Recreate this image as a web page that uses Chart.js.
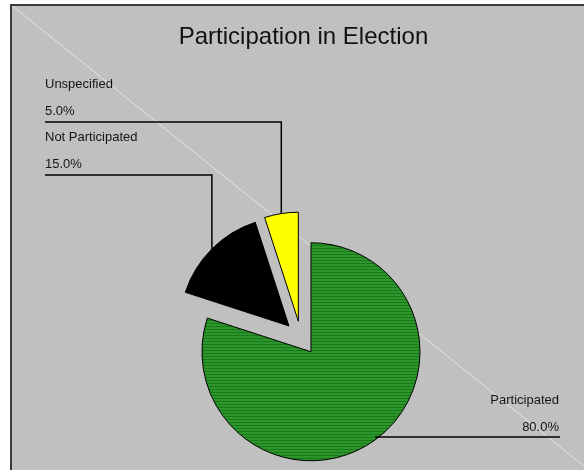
<!DOCTYPE html>
<html>
<head>
  <meta charset="UTF-8" />
  <title>Participation in Election</title>
  <script src="https://cdn.jsdelivr.net/npm/chart.js@4.4.0/dist/chart.umd.min.js"></script>
  <style>
    html,body{margin:0;padding:0;background:#fff;}
    #wrap{width:584px;height:470px;position:relative;}
  </style>
</head>
<body>
  <div id="wrap"><canvas id="pieChart" width="584" height="470"></canvas></div>
  <script>
    const categories=['Participated','Not Participated','Unspecified'];
    const shares=[80,15,5];
    const sliceColors=['#2a922a','#000000','#ffff00'];
    // y of the horizontal leader line for each label
    const leaderY=[437,175,122];

    function greenPattern(){
      const c=document.createElement('canvas');
      c.width=4;c.height=3;
      const g=c.getContext('2d');
      g.fillStyle='#2c962c';g.fillRect(0,0,4,3);
      g.fillStyle='#1a7a1a';g.fillRect(0,2,4,1);
      return g.createPattern(c,'repeat');
    }
    const fills=sliceColors.slice();
    fills[0]=greenPattern();

    const explode=17;
    const frame={
      id:'frame',
      beforeDraw(chart){
        const ctx=chart.ctx;
        ctx.save();
        ctx.fillStyle='#ffffff';
        ctx.fillRect(0,0,chart.width,chart.height);
        ctx.fillStyle='#c0c0c0';
        ctx.fillRect(10,4,600,480);
        ctx.strokeStyle='#e4e4e4';
        ctx.lineWidth=1;
        ctx.beginPath();ctx.moveTo(10,4);ctx.lineTo(600,479);ctx.stroke();
        ctx.strokeStyle='#3c3c3c';
        ctx.lineWidth=2;
        ctx.beginPath();ctx.moveTo(11,chart.height);ctx.lineTo(11,5);ctx.lineTo(chart.width,5);ctx.stroke();
        ctx.fillStyle='#111';
        ctx.font='24px Arial, "Liberation Sans", sans-serif';
        ctx.textAlign='center';
        ctx.textBaseline='alphabetic';
        ctx.fillText('Participation in Election',303.5,44);
        ctx.restore();
      }
    };

    // pull every slice out from the centre along its mid angle
    const explodeSlices={
      id:'explodeSlices',
      afterDatasetsUpdate(chart){
        chart.getDatasetMeta(0).data.forEach(arc=>{
          const mid=(arc.startAngle+arc.endAngle)/2;
          arc.x+=Math.cos(mid)*explode;
          arc.y+=Math.sin(mid)*explode;
        });
      }
    };

    const leaderLabels={
      id:'leaderLabels',
      afterDatasetsDraw(chart){
        const ctx=chart.ctx;
        const meta=chart.getDatasetMeta(0);
        const total=shares.reduce((a,b)=>a+b,0);
        ctx.save();
        ctx.font='13px Arial, "Liberation Sans", sans-serif';
        ctx.fillStyle='#151515';
        ctx.strokeStyle='#000';
        ctx.lineWidth=1.5;
        meta.data.forEach((arc,i)=>{
          const mid=(arc.startAngle+arc.endAngle)/2;
          const ax=arc.x+Math.cos(mid)*arc.outerRadius;
          const ay=arc.y+Math.sin(mid)*arc.outerRadius;
          const ly=leaderY[i];
          const pct=(shares[i]/total*100).toFixed(1)+'%';
          ctx.beginPath();
          if(ax<chart.chartArea.left+chart.chartArea.width/2){
            ctx.moveTo(ax,ay);ctx.lineTo(ax,ly);ctx.lineTo(45,ly);
            ctx.stroke();
            ctx.textAlign='left';
            ctx.fillText(categories[i],45,ly-34);
            ctx.fillText(pct,45,ly-7);
          }else{
            ctx.moveTo(ax,ly);ctx.lineTo(560,ly);
            ctx.stroke();
            ctx.textAlign='right';
            ctx.fillText(categories[i],559,ly-33);
            ctx.fillText(pct,559,ly-6);
          }
        });
        ctx.restore();
      }
    };

    new Chart(document.getElementById('pieChart'),{
      type:'pie',
      data:{labels:categories,datasets:[{data:shares,backgroundColor:fills,borderColor:'#000',borderWidth:1,clip:false}]},
      options:{
        responsive:false,
        animation:false,
        radius:109,
        layout:{padding:{left:171,right:153,top:208,bottom:2}},
        plugins:{legend:{display:false},title:{display:false},tooltip:{enabled:false}}
      },
      plugins:[frame,explodeSlices,leaderLabels]
    });
  </script>
</body>
</html>
